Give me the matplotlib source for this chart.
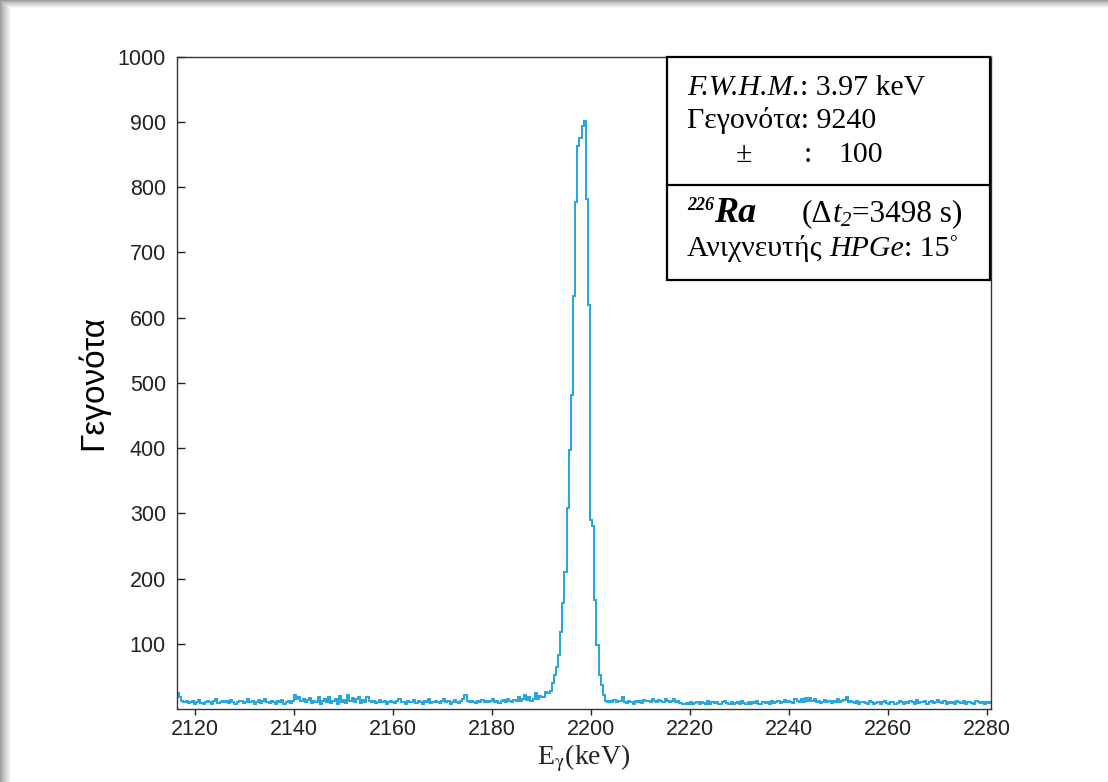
import numpy as np
import matplotlib
matplotlib.use('Agg')
import matplotlib.pyplot as plt
from matplotlib.patches import Rectangle
from matplotlib.lines import Line2D

# spectrum: first channel energy and channel width (keV)
e_start = 2116.4
bin_width = 0.43

# counts left of the peak (baseline)
counts_left = [
    25, 19, 12, 10, 13, 9, 11, 12, 8, 10, 14, 9, 7, 11, 13, 10, 8, 12, 15, 9,
    11, 13, 10, 12, 9, 14, 11, 8, 10, 12, 13, 9, 11, 15, 10, 12, 8, 11, 14, 9,
    12, 16, 10, 9, 13, 11, 7, 12, 10, 14, 8, 11, 13, 9, 12, 21, 15, 18, 12, 16,
    10, 14, 17, 9, 13, 11, 19, 8, 12, 15, 10, 18, 9, 13, 16, 8, 20, 11, 14, 9,
    22, 12, 17, 10, 15, 19, 9, 14, 11, 18, 12, 10, 13, 9, 11, 14, 10, 12, 8, 11,
    13, 10, 9, 12, 16, 10, 11, 8, 13, 11, 10, 14, 9, 12, 11, 8, 13, 10, 15, 9,
    11, 12, 10, 9, 13, 16, 10, 12, 8, 11, 14, 10, 9, 12, 15, 22, 12, 10, 13, 11,
    9, 12, 10, 14, 11, 13, 10, 12, 15, 11, 13, 9, 12, 14, 10, 16, 12, 11, 14, 13,
    18, 12, 15, 22, 14, 19, 13, 16, 24, 15, 20, 18,
]

# counts in the peak
counts_peak = [
    18, 26, 24, 28, 40, 52, 64, 83, 118, 162, 210, 308, 397, 482, 633, 778,
    863, 876, 894, 901, 782, 619, 290, 280, 167, 98, 52, 37, 22, 12,
]

# counts right of the peak (baseline)
counts_right = [
    10, 12, 11, 14, 10, 12, 13, 18, 11, 9, 12, 10, 8, 13, 11, 12, 9, 14, 12, 13,
    11, 15, 12, 10, 14, 13, 11, 16, 12, 10, 13, 15, 11, 12, 9, 8, 7, 9, 8, 10,
    7, 9, 11, 8, 10, 9, 7, 12, 8, 10, 9, 11, 8, 7, 10, 12, 9, 8, 11, 7,
    9, 10, 8, 12, 9, 7, 11, 8, 10, 9, 12, 8, 7, 10, 9, 11, 8, 13, 9, 10,
    12, 9, 11, 14, 10, 13, 11, 9, 15, 12, 10, 16, 11, 17, 13, 17, 12, 15, 10, 12,
    9, 11, 14, 10, 12, 9, 13, 11, 16, 10, 12, 14, 19, 11, 13, 10, 9, 12, 8, 10,
    11, 9, 8, 12, 10, 7, 9, 11, 8, 10, 12, 9, 7, 10, 11, 8, 9, 13, 10, 8,
    11, 9, 12, 10, 8, 14, 9, 11, 10, 13, 8, 10, 12, 9, 11, 14, 10, 9, 12, 8,
    10, 9, 11, 8, 12, 10, 9, 13, 8, 10, 11, 9, 8, 12, 10, 9, 11, 8, 10, 9,
    11,
]

x_ticks = [2120, 2140, 2160, 2180, 2200, 2220, 2240, 2260, 2280]
y_ticks = [100, 200, 300, 400, 500, 600, 700, 800, 900, 1000]

counts = np.array(counts_left + counts_peak + counts_right)
edges = e_start + bin_width * np.arange(len(counts) + 1)

plt.rcParams['mathtext.fontset'] = 'stix'

W, H = 1108, 782
fig = plt.figure(figsize=(W / 100, H / 100), dpi=100)

# page shadow on the left and top edges
bg = fig.add_axes([0, 0, 1, 1], zorder=-5)
xx = np.clip(np.arange(W) / 11.0, 0, 1)
yy = np.clip(np.arange(H) / 8.0, 0, 1)
shade = 0.62 + 0.38 * np.minimum(xx[None, :], yy[:, None]) ** 0.8
bg.imshow(shade, cmap='gray', vmin=0, vmax=1, aspect='auto',
          extent=[0, 1, 0, 1], interpolation='bilinear')
bg.axis('off')

ax = fig.add_axes([177 / W, 1 - 709 / H, (991 - 177) / W, (709 - 56.7) / H])
ax.stairs(counts, edges, color='#25a6dd', linewidth=1.4)

ax.set_xlim(2116.4, 2280.8)
ax.set_ylim(0, 1000)
ax.set_xticks(x_ticks)
ax.set_yticks(y_ticks)
ax.tick_params(axis='x', direction='out', length=4, width=1, pad=3,
               labelsize=15.5, colors='#222222')
ax.tick_params(axis='y', direction='in', length=6, width=1, pad=8,
               labelsize=15.5, colors='#222222')
for lab in ax.get_xticklabels() + ax.get_yticklabels():
    lab.set_family('Liberation Sans')
for s in ax.spines.values():
    s.set_color('#333333')
    s.set_linewidth(1.0)

ax.set_ylabel('Γεγονότα', family='Liberation Sans', fontsize=24, labelpad=6)
ax.set_xlabel(r'E$_{\mathrm{\gamma}}$(keV)', family='Liberation Serif',
              fontsize=20, labelpad=2, color='#222222')

# info box
box = Rectangle((667 / W, 1 - 279.5 / H), (990 - 667) / W, (279.5 - 57) / H,
                transform=fig.transFigure, facecolor='white', edgecolor='black',
                linewidth=1.6, zorder=5)
fig.patches.append(box)
fig.lines.append(Line2D([667 / W, 990 / W], [1 - 185 / H, 1 - 185 / H],
                        transform=fig.transFigure, color='black',
                        linewidth=1.6, zorder=6))

renderer = fig.canvas.get_renderer()
serif = 'Liberation Serif'


def put_runs(x_px, y_px, runs):
    x = x_px
    for txt, kw, dy in runs:
        t = fig.text(x / W, 1 - (y_px - dy) / H, txt, ha='left', va='baseline',
                     family=serif, zorder=7, **kw)
        x = t.get_window_extent(renderer).x1


fs = 21.5
put_runs(687, 95, [('F.W.H.M.', dict(size=fs, style='italic'), 0),
                   (': 3.97 keV', dict(size=fs), 0)])
put_runs(687, 127.5, [('Γεγονότα: 9240', dict(size=fs), 0)])
put_runs(736, 161.5, [('±', dict(size=fs), 0)])
put_runs(804, 161.5, [(':', dict(size=fs), 0)])
put_runs(838, 161.5, [('100', dict(size=fs), 0)])
put_runs(687, 221.5, [('226', dict(size=13, style='italic', weight='bold'), 11),
                      ('Ra', dict(size=26, style='italic', weight='bold'), 0)])
put_runs(802, 221.5, [('(Δ', dict(size=22.5), 0),
                      ('t', dict(size=22.5, style='italic'), 0),
                      ('2', dict(size=15, style='italic'), -5),
                      ('=3498 s)', dict(size=22.5), 0)])
put_runs(687, 256.5, [('Ανιχνευτής ', dict(size=fs), 0),
                      ('HPGe', dict(size=fs, style='italic'), 0),
                      (': 15', dict(size=fs), 0),
                      ('°', dict(size=14), 8)])

fig.savefig('out.png', dpi=100)
